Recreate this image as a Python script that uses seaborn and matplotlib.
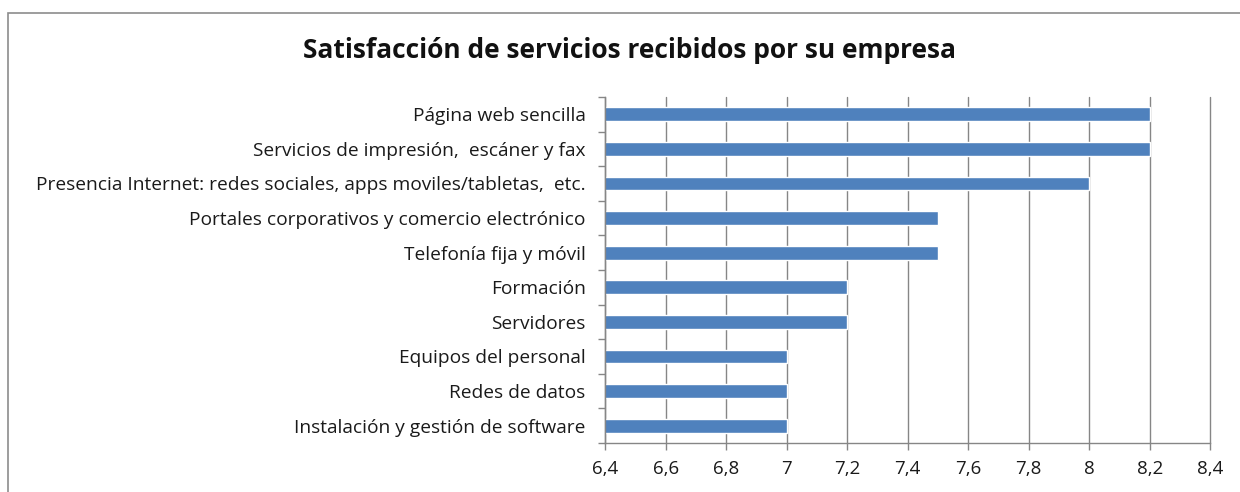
import numpy as np
import pandas as pd
import matplotlib.pyplot as plt
import seaborn as sns
from matplotlib.patches import Rectangle
from matplotlib.ticker import FixedLocator, FuncFormatter

CATEGORIES = [
    'Página web sencilla',
    'Servicios de impresión,  escáner y fax',
    'Presencia Internet: redes sociales, apps moviles/tabletas,  etc.',
    'Portales corporativos y comercio electrónico',
    'Telefonía fija y móvil',
    'Formación',
    'Servidores',
    'Equipos del personal',
    'Redes de datos',
    'Instalación y gestión de software',
]
VALUES = [8.2, 8.2, 8.0, 7.5, 7.5, 7.2, 7.2, 7.0, 7.0, 7.0]
X_TICKS = [6.4, 6.6, 6.8, 7.0, 7.2, 7.4, 7.6, 7.8, 8.0, 8.2, 8.4]
TITLE = 'Satisfacción de servicios recibidos por su empresa'

BAR_COLOUR = '#4F81BD'
GRID_COLOUR = '#868686'

sns.set_style('white')
plt.rcParams['font.family'] = ['Open Sans', 'DejaVu Sans']

df = pd.DataFrame({'servicio': CATEGORIES, 'valor': VALUES})

fig = plt.figure(figsize=(12.4, 4.92), dpi=100)
ax = fig.add_axes([0.488, 0.0996, 0.488, 0.7034])

sns.barplot(data=df, y='servicio', x='valor', order=CATEGORIES, orient='h',
            color=BAR_COLOUR, saturation=1, width=0.4, ax=ax)

ax.set_xlim(6.4, 8.4)
ax.set_ylim(len(CATEGORIES) - 0.5, -0.5)
ax.xaxis.set_major_locator(FixedLocator(X_TICKS))
ax.xaxis.set_major_formatter(FuncFormatter(lambda v, _: f'{v:g}'.replace('.', ',')))
ax.set_axisbelow(True)
ax.grid(axis='x', color=GRID_COLOUR, linewidth=1)
ax.grid(axis='y', visible=False)
for gl in ax.get_xgridlines():
    gl.set_clip_on(False)

# Excel style: category ticks sit between the bars
ax.yaxis.set_minor_locator(FixedLocator(np.arange(-0.5, len(CATEGORIES), 1)))
ax.tick_params(axis='y', which='major', length=0, pad=14, labelsize=13.8, labelcolor='#1a1a1a')
ax.tick_params(axis='y', which='minor', length=5, width=1, color=GRID_COLOUR, left=True)
ax.tick_params(axis='x', length=5, width=1, color=GRID_COLOUR, bottom=True,
               labelsize=13.5, pad=7, labelcolor='#1a1a1a')

ax.set_xlabel('')
ax.set_ylabel('')
for side in ['top', 'right']:
    ax.spines[side].set_visible(False)
for side in ['left', 'bottom']:
    ax.spines[side].set_color(GRID_COLOUR)
    ax.spines[side].set_linewidth(1)

fig.text(0.508, 0.897, TITLE, ha='center', va='center',
         fontsize=19, fontweight='bold', color='#111111')

# chart frame
fig.patches.append(Rectangle((0.0065, -0.1), 1.2, 1.073, transform=fig.transFigure,
                             fill=False, edgecolor='#8c8c8c', linewidth=1.2))

fig.savefig('out.png', dpi=100)
